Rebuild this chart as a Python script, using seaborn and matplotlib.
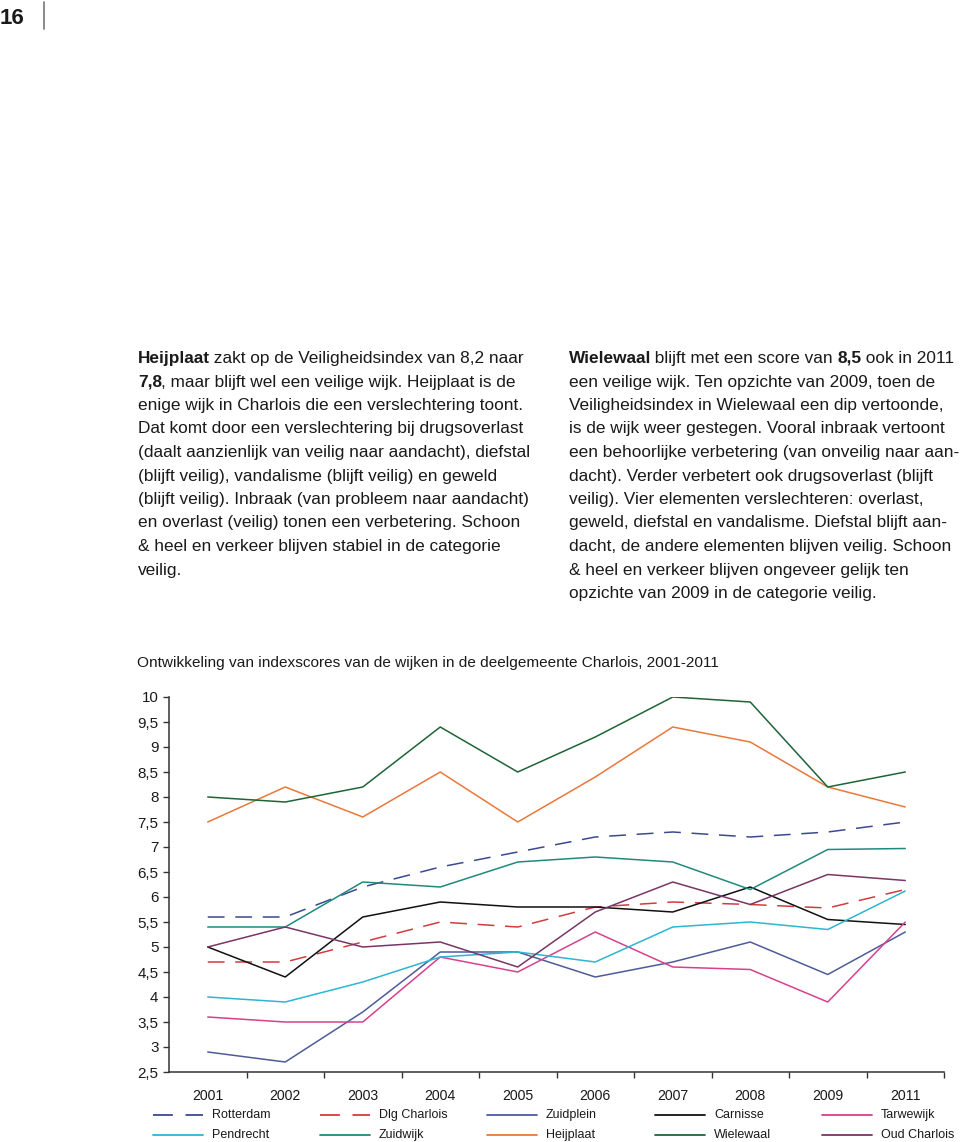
import matplotlib
matplotlib.use("Agg")
import matplotlib.pyplot as plt
from matplotlib.lines import Line2D
import seaborn as sns
import pandas as pd

# data
years = ["2001", "2002", "2003", "2004", "2005", "2006", "2007", "2008", "2009", "2011"]
rotterdam = [5.6, 5.6, 6.2, 6.6, 6.9, 7.2, 7.3, 7.2, 7.3, 7.5]
dlg_charlois = [4.7, 4.7, 5.1, 5.5, 5.4, 5.8, 5.9, 5.85, 5.78, 6.15]
zuidplein = [2.9, 2.7, 3.7, 4.9, 4.9, 4.4, 4.7, 5.1, 4.45, 5.3]
carnisse = [5.0, 4.4, 5.6, 5.9, 5.8, 5.8, 5.7, 6.2, 5.55, 5.45]
tarwewijk = [3.6, 3.5, 3.5, 4.8, 4.5, 5.3, 4.6, 4.55, 3.9, 5.5]
pendrecht = [4.0, 3.9, 4.3, 4.8, 4.9, 4.7, 5.4, 5.5, 5.35, 6.12]
zuidwijk = [5.4, 5.4, 6.3, 6.2, 6.7, 6.8, 6.7, 6.15, 6.95, 6.97]
heijplaat = [7.5, 8.2, 7.6, 8.5, 7.5, 8.4, 9.4, 9.1, 8.2, 7.8]
wielewaal = [8.0, 7.9, 8.2, 9.4, 8.5, 9.2, 10.0, 9.9, 8.2, 8.5]
oud_charlois = [5.0, 5.4, 5.0, 5.1, 4.6, 5.7, 6.3, 5.85, 6.45, 6.33]

names = ["Rotterdam", "Dlg Charlois", "Zuidplein", "Carnisse", "Tarwewijk",
         "Pendrecht", "Zuidwijk", "Heijplaat", "Wielewaal", "Oud Charlois"]
series = [rotterdam, dlg_charlois, zuidplein, carnisse, tarwewijk,
          pendrecht, zuidwijk, heijplaat, wielewaal, oud_charlois]
colors = ["#3b4a8f", "#d23c3c", "#4d5c98", "#111111", "#d8408c",
          "#2cb6d2", "#1f8a7c", "#e8783c", "#1f6438", "#7a3566"]
yticks = [2.5, 3, 3.5, 4, 4.5, 5, 5.5, 6, 6.5, 7, 7.5, 8, 8.5, 9, 9.5, 10]

left_par = [
    [("Heijplaat", True), (" zakt op de Veiligheidsindex van 8,2 naar", False)],
    [("7,8", True), (", maar blijft wel een veilige wijk. Heijplaat is de", False)],
    [("enige wijk in Charlois die een verslechtering toont.", False)],
    [("Dat komt door een verslechtering bij drugsoverlast", False)],
    [("(daalt aanzienlijk van veilig naar aandacht), diefstal", False)],
    [("(blijft veilig), vandalisme (blijft veilig) en geweld", False)],
    [("(blijft veilig). Inbraak (van probleem naar aandacht)", False)],
    [("en overlast (veilig) tonen een verbetering. Schoon", False)],
    [("& heel en verkeer blijven stabiel in de categorie", False)],
    [("veilig.", False)],
]
right_par = [
    [("Wielewaal", True), (" blijft met een score van ", False), ("8,5", True), (" ook in 2011", False)],
    [("een veilige wijk. Ten opzichte van 2009, toen de", False)],
    [("Veiligheidsindex in Wielewaal een dip vertoonde,", False)],
    [("is de wijk weer gestegen. Vooral inbraak vertoont", False)],
    [("een behoorlijke verbetering (van onveilig naar aan-", False)],
    [("dacht). Verder verbetert ook drugsoverlast (blijft", False)],
    [("veilig). Vier elementen verslechteren: overlast,", False)],
    [("geweld, diefstal en vandalisme. Diefstal blijft aan-", False)],
    [("dacht, de andere elementen blijven veilig. Schoon", False)],
    [("& heel en verkeer blijven ongeveer gelijk ten", False)],
    [("opzichte van 2009 in de categorie veilig.", False)],
]

rows = []
for name, vals in zip(names, series):
    for yr, v in zip(years, vals):
        rows.append({"jaar": yr, "wijk": name, "score": v})
df = pd.DataFrame(rows)

sns.set_theme(style="ticks")
plt.rcParams['font.family'] = ['Liberation Sans', 'DejaVu Sans']

W, H = 960, 1142
fig = plt.figure(figsize=(W / 100, H / 100), dpi=100)
fig.patch.set_facecolor("white")


def fx(x):
    return x / W


def fy(y):
    return 1 - y / H


# page number and separator
fig.text(fx(0), fy(24), "16", fontsize=16, fontweight="bold", va="baseline", color="#1a1a1a")
fig.add_artist(Line2D([fx(44), fx(44)], [fy(2), fy(29)], color="#777777", lw=1.2))

renderer = fig.canvas.get_renderer()


def rich_line(x, y, parts, size=12.45):
    for txt, bold in parts:
        t = fig.text(fx(x), fy(y), txt, fontsize=size, va="baseline", color="#1a1a1a",
                     fontweight="bold" if bold else "normal")
        x += t.get_window_extent(renderer).width - (1 if bold else 0)


for i, parts in enumerate(left_par):
    rich_line(138, 363 + i * 23.5, parts)
for i, parts in enumerate(right_par):
    rich_line(569, 363 + i * 23.5, parts)

fig.text(fx(137), fy(667), "Ontwikkeling van indexscores van de wijken in de deelgemeente Charlois, 2001-2011",
         fontsize=11.1, va="baseline", color="#1a1a1a")

# chart
ax = fig.add_axes([fx(169), fy(1072), (944 - 169) / W, (1072 - 697) / H])
dash_map = {n: "" for n in names}
dash_map["Rotterdam"] = (11, 7)
dash_map["Dlg Charlois"] = (11, 7)
sns.lineplot(data=df, x="jaar", y="score", hue="wijk", style="wijk",
             palette=dict(zip(names, colors)), dashes=dash_map,
             linewidth=1.1, legend=False, ax=ax)

ax.set_xlim(-0.5, 9.5)
ax.set_ylim(2.5, 10)
ax.set_yticks(yticks)
ax.set_yticklabels([f"{v:g}".replace(".", ",") for v in yticks])
ax.set_xticks(range(len(years)))
ax.set_xticklabels(years)
ax.set_xticks([i + 0.5 for i in range(len(years))], minor=True)
ax.tick_params(axis="x", which="major", length=0, pad=12, labelsize=10.2, colors="#1a1a1a")
ax.tick_params(axis="x", which="minor", length=4, width=1, direction="out", color="#333333")
ax.tick_params(axis="y", length=4, width=1, direction="out", pad=3.5, labelsize=10.9,
               color="#333333", labelcolor="#1a1a1a")
ax.set_xlabel("")
ax.set_ylabel("")
sns.despine(ax=ax)
for s in ["left", "bottom"]:
    ax.spines[s].set_color("#333333")
    ax.spines[s].set_linewidth(1.1)
ax.set_facecolor("white")

# legend, 2 rows x 5 columns
col_x = [153, 320, 487, 655, 822]
row_y = [1115, 1135]
for k, name in enumerate(names):
    r, c = divmod(k, 5)
    x0 = col_x[c]
    y0 = row_y[r]
    ln = Line2D([fx(x0), fx(x0 + 50)], [fy(y0), fy(y0)], color=colors[k], lw=1.3)
    if name in ("Rotterdam", "Dlg Charlois"):
        ln.set_dashes((11, 7))
    fig.add_artist(ln)
    fig.text(fx(x0 + 59), fy(y0), name, fontsize=9, va="center", color="#1a1a1a")

fig.savefig("out.png", dpi=100, facecolor="white")
